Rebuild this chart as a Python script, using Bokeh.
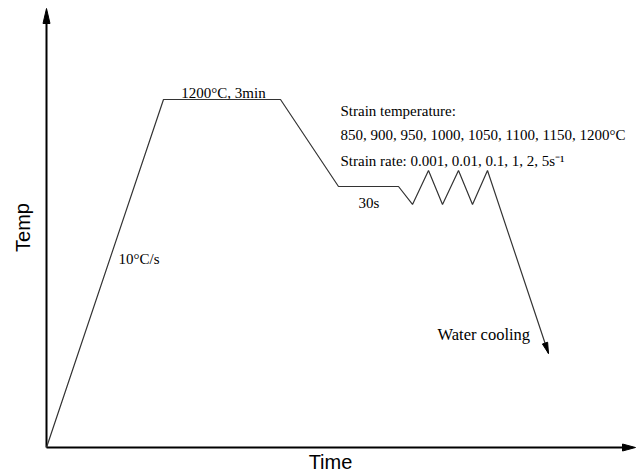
import math
from bokeh.plotting import figure
from bokeh.models import Range1d, ColumnDataSource
from bokeh.core.properties import value
from bokeh.embed import file_html
from bokeh.resources import INLINE

# Schematic thermal profile (time in arbitrary units, temperature in deg C)
time = [0, 117, 234, 292, 352, 366, 382, 396, 412, 426, 441, 502]
temp = [0, 1200, 1200, 900, 900, 838, 955, 838, 955, 838, 955, 324]

labels = ["1200°C, 3min", "Strain temperature:",
          "850, 900, 950, 1000, 1050, 1100, 1150, 1200°C",
          "Strain rate: 0.001, 0.01, 0.1, 1, 2, 5s⁻¹",
          "30s", "10°C/s", "Water cooling"]

W, H = 637, 475
X0, Y0 = 46, 447          # pixel position of the origin
K = 1200 / 348.0          # deg C per pixel


def px2x(px):
    return px - X0


def px2y(py):
    return (Y0 - py) * K


def x2px(x):
    return x + X0


def y2px(y):
    return Y0 - y / K


def head(xs, ys, xe, ye, length, width):
    """Triangle arrow head (data coords) ending at (xe, ye), pointing from start."""
    sx, sy, ex, ey = x2px(xs), y2px(ys), x2px(xe), y2px(ye)
    d = math.hypot(ex - sx, ey - sy)
    ux, uy = (ex - sx) / d, (ey - sy) / d
    bx, by = ex - ux * length, ey - uy * length
    nx, ny = -uy * width / 2, ux * width / 2
    pts = [(ex, ey), (bx + nx, by + ny), (bx - nx, by - ny)]
    return [px2x(a) for a, _ in pts], [px2y(b) for _, b in pts]


p = figure(width=W, height=H, output_backend="svg", toolbar_location=None,
           x_axis_type=None, y_axis_type=None, min_border=0,
           x_range=Range1d(px2x(0), px2x(W)), y_range=Range1d(px2y(H), px2y(0)))
p.grid.visible = False
p.outline_line_color = None
p.background_fill_color = "white"
p.border_fill_color = "white"

# axes with arrows
yx_end, yy_end = 0, px2y(8)
xx_end, xy_end = px2x(635), 0
p.line([0, 0], [0, px2y(20)], line_color="black", line_width=2)
p.line([0, px2x(624)], [0, 0], line_color="black", line_width=2)
hx, hy = head(0, 0, yx_end, yy_end, 15, 7)
p.patch(hx, hy, fill_color="black", line_color="black", line_width=1)
hx, hy = head(0, 0, xx_end, xy_end, 13, 7)
p.patch(hx, hy, fill_color="black", line_color="black", line_width=1)

# profile
p.line(time, temp, line_color="#333333", line_width=1.2)
hx, hy = head(time[-2], temp[-2], time[-1], temp[-1], 11, 5.5)
p.patch(hx, hy, fill_color="black", line_color="black", line_width=1)

# annotations
src = ColumnDataSource(dict(
    x=[px2x(223), px2x(340), px2x(340), px2x(340), px2x(358), px2x(118), px2x(437)],
    y=[px2y(92), px2y(110), px2y(134), px2y(160), px2y(202), px2y(258), px2y(334)],
    t=labels,
    a=["center", "left", "left", "left", "left", "left", "left"],
    fs=["15px", "15px", "15px", "15px", "15px", "15px", "16.5px"],
))
p.text(x="x", y="y", text="t", text_align="a", source=src, text_baseline="alphabetic",
       text_font=value("Liberation Serif"), text_font_size="fs", text_color="#000000")

# axis titles
p.text(x=[px2x(330)], y=[px2y(461)], text=["Time"], text_align="center",
       text_baseline="middle", text_font=value("Liberation Sans"),
       text_font_size="20px", text_color="black")
p.text(x=[px2x(22)], y=[px2y(227)], text=["Temp"], text_align="center",
       text_baseline="middle", angle=1.5708, text_font=value("Liberation Sans"),
       text_font_size="20px", text_color="black")

open("out.html", "w").write(file_html(p, INLINE))
